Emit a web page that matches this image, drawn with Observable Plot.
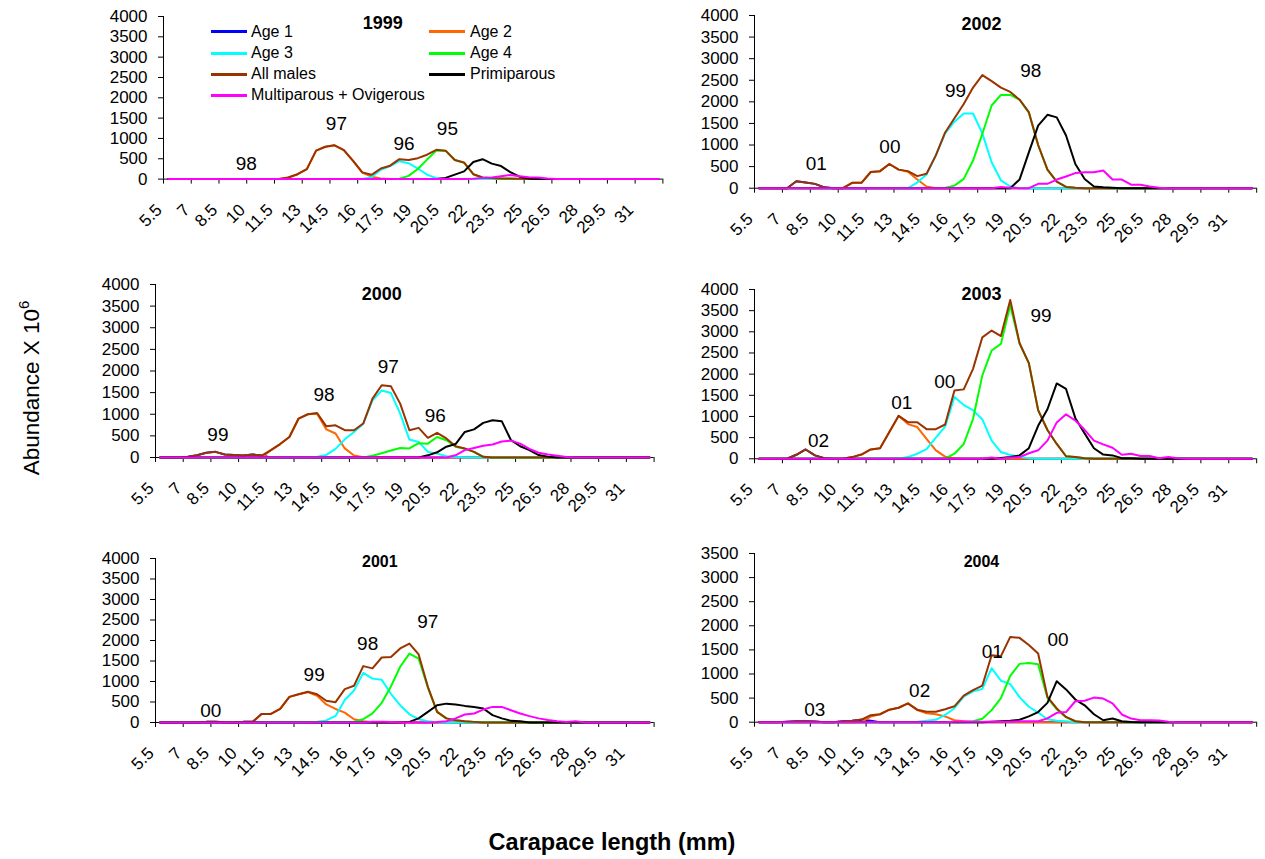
<!DOCTYPE html>
<html><head><meta charset="utf-8">
<script src="https://cdn.jsdelivr.net/npm/d3@7"></script>
<script src="https://cdn.jsdelivr.net/npm/@observablehq/plot@0.6"></script>
<style>
html,body{margin:0;padding:0;background:#fff;}
#fig{position:relative;width:1265px;height:859px;font-family:"Liberation Sans",Arial,sans-serif;color:#000;overflow:hidden;}
.leg{position:absolute;font-size:16px;white-space:nowrap;line-height:1;}
.sw{position:absolute;height:3px;}
#ytitle{position:absolute;left:32px;top:388px;transform:translate(-50%,-50%) rotate(-90deg);font-size:22.5px;white-space:nowrap;}
#ytitle sup{font-size:15px;vertical-align:0;position:relative;top:-10px;}
#xtitle{position:absolute;left:612px;top:842px;transform:translate(-50%,-50%);font-size:23.5px;font-weight:bold;white-space:nowrap;}
</style></head>
<body><div id="fig"><div id="ytitle">Abundance X 10<sup>6</sup></div><div id="xtitle">Carapace length (mm)</div></div>
<script>
// Carapace length categories (mm)
const CATS = [5.5,6,6.5,7,7.5,8,8.5,9,9.5,10,10.5,11,11.5,12,12.5,13,13.5,14,14.5,15,15.5,16,16.5,17,17.5,18,18.5,19,19.5,20,20.5,21,21.5,22,22.5,23,23.5,24,24.5,25,25.5,26,26.5,27,27.5,28,28.5,29,29.5,30,30.5,31,31.5,32];
const TICK_LABELS = ["5.5","7","8.5","10","11.5","13","14.5","16","17.5","19","20.5","22","23.5","25","26.5","28","29.5","31"];
const Y_TICKS_4000 = [0,500,1000,1500,2000,2500,3000,3500,4000];
const Y_TICKS_3500 = [0,500,1000,1500,2000,2500,3000,3500];
const SERIES_NAMES = ["Age 1","Age 2","Age 3","Age 4","All males","Primiparous","Multiparous + Ovigerous"];
const SERIES_COLORS = ["#0000FF","#FF6600","#00FFFF","#00FF00","#993300","#000000","#FF00FF"];

// Abundance (x10^6) per length class; values past the last listed one are 0.
// 1999
const a1_1999 = [0];
const a2_1999 = [0,0,0,0,0,0,0,0,0,0, 0,0,0,40,120,245,700,795,830,715, 450,160,60,15,0];
const a3_1999 = [0,0,0,0,0,0,0,0,0,0, 0,0,0,0,0,0,0,0,0,0, 0,5,45,230,320,440,390,260,110,20, 0];
const a4_1999 = [0,0,0,0,0,0,0,0,0,0, 0,0,0,0,0,0,0,0,0,0, 0,0,0,0,0,10,80,250,480,700, 700,470,400,120,40,20,10,0];
const m_1999  = [0,0,0,0,0,0,0,0,0,0, 0,0,0,40,120,245,700,795,830,715, 450,165,105,260,330,490,470,515,600,720, 700,470,410,120,40,25,15,15,10,0];
const p_1999  = [0,0,0,0,0,0,0,0,0,0, 0,0,0,0,0,0,0,0,0,0, 0,0,0,0,0,0,0,0,0,0, 30,110,190,420,490,380,320,170,60,15, 5,0];
const mo_1999 = [0,0,0,0,0,0,0,0,0,0, 0,0,0,0,0,0,0,0,0,0, 0,0,0,0,0,0,0,0,0,0, 0,0,0,10,30,40,70,100,70,45, 40,15,0];
// 2000
const a1_2000 = [0,0,0,15,50,110,130,70,55,45, 70,45,0];
const a2_2000 = [0,0,0,0,0,0,0,0,0,0, 0,0,170,310,475,900,1000,1010,650,555, 210,45,5,0];
const a3_2000 = [0,0,0,0,0,0,0,0,0,0, 0,0,0,0,0,0,0,20,60,200, 420,590,780,1320,1550,1490,1015,415,360,130, 90,30,10,0];
const a4_2000 = [0,0,0,0,0,0,0,0,0,0, 0,0,0,0,0,0,0,0,0,0, 0,0,0,40,100,160,220,210,330,320, 475,400,250,200,130,15,0];
const m_2000  = [0,0,0,15,50,110,130,70,55,45, 70,45,170,310,475,900,1000,1030,720,745, 630,630,785,1360,1670,1645,1245,630,685,455, 570,440,260,210,130,15,0];
const p_2000  = [0,0,0,0,0,0,0,0,0,0, 0,0,0,0,0,0,0,0,0,0, 0,0,0,0,0,0,0,0,0,50, 120,250,310,590,650,800,860,840,400,260, 170,55,20,0];
const mo_2000 = [0,0,0,0,0,0,0,0,0,0, 0,0,0,0,0,0,0,0,0,0, 0,0,0,0,0,0,0,0,0,0, 0,0,50,170,220,270,300,370,390,320, 200,110,70,40,10,0];
// 2001
const a1_2001 = [0,0,0,0,0,15,15,5,0,15, 15,0];
const a2_2001 = [0,0,0,0,0,0,0,0,0,0, 0,210,210,330,625,690,740,650,440,330, 240,80,30,5,0];
const a3_2001 = [0,0,0,0,0,0,0,0,0,0, 0,0,0,0,0,0,0,20,50,160, 550,780,1210,1070,1040,700,420,200,80,30, 5,0];
const a4_2001 = [0,0,0,0,0,0,0,0,0,0, 0,0,0,0,0,0,0,0,0,0, 0,20,80,220,480,880,1360,1680,1560,850, 260,100,55,30,15,0];
const m_2001  = [0,0,0,0,0,15,15,5,0,15, 15,210,210,330,625,690,750,690,530,495, 815,895,1375,1320,1585,1600,1805,1925,1660,870, 260,100,55,30,15,0];
const p_2001  = [0,0,0,0,0,0,0,0,0,0, 0,0,0,0,0,0,0,0,0,0, 0,0,0,0,0,0,0,15,100,260, 420,460,440,405,380,340,180,100,40,30, 0];
const mo_2001 = [0,0,0,0,0,0,0,0,0,0, 0,0,0,0,0,0,0,0,0,0, 0,0,0,20,20,10,0,0,0,0, 10,30,100,195,220,315,380,380,300,220, 155,100,60,30,10,30,0];
// 2002
const a1_2002 = [0,0,0,0,160,130,100,20,0];
const a2_2002 = [0,0,0,0,0,0,0,0,0,0, 125,125,375,395,560,430,380,200,40,0];
const a3_2002 = [0,0,0,0,0,0,0,0,0,0, 0,0,0,0,0,0,0,130,320,760, 1270,1540,1730,1730,1270,600,180,40,0];
const a4_2002 = [0,0,0,0,0,0,0,0,0,0, 0,0,0,0,0,0,0,0,0,0, 10,60,215,640,1260,1915,2160,2160,2050,1750, 1000,430,150,30,10,0];
const m_2002  = [0,0,0,0,160,130,100,20,0,0, 125,125,375,395,560,430,395,280,335,760, 1290,1620,1950,2330,2620,2480,2330,2230,2050,1760, 1000,430,150,30,10,0];
const p_2002  = [0,0,0,0,0,0,0,0,0,0, 0,0,0,0,0,0,0,0,0,0, 0,0,0,0,0,0,0,0,200,830, 1450,1700,1640,1220,560,215,40,20,10,0];
const mo_2002 = [0,0,0,0,0,0,0,0,0,0, 0,0,0,0,0,0,0,0,0,0, 0,0,0,0,0,0,30,10,0,0, 100,100,200,270,350,370,370,410,200,200, 80,80,40,10,0];
// 2003
const a1_2003 = [0,0,0,0,95,220,80,15,0];
const a2_2003 = [0,0,0,0,0,0,0,0,0,0, 40,100,220,250,630,1015,820,750,470,200, 50,15,0];
const a3_2003 = [0,0,0,0,0,0,0,0,0,0, 0,0,0,0,0,0,40,120,230,500, 760,1460,1270,1150,930,430,160,90,50,10, 0];
const a4_2003 = [0,0,0,0,0,0,0,0,0,0, 0,0,0,0,0,0,0,0,0,0, 5,120,350,945,1970,2560,2715,3620,2730,2260, 1150,680,350,60,40,15,0];
const m_2003  = [0,0,0,0,95,220,80,15,0,0, 40,100,220,250,630,1015,865,865,700,700, 810,1615,1640,2125,2870,3030,2900,3750,2730,2260, 1150,680,350,60,40,15,0];
const p_2003  = [0,0,0,0,0,0,0,0,0,0, 0,0,0,0,0,0,0,0,0,0, 0,0,0,0,0,0,20,40,80,250, 780,1170,1780,1650,960,600,250,100,80,15, 10,0];
const mo_2003 = [0,0,0,0,0,0,0,0,0,0, 0,0,0,0,0,0,0,0,0,0, 0,0,0,0,0,30,0,30,40,130, 200,430,860,1050,905,685,430,340,260,95, 120,65,65,15,40,15,0];
// 2004
const a1_2004 = [0,0,0,10,20,20,15,0,0,20, 30,50,30,0];
const a2_2004 = [0,0,0,0,0,0,0,0,0,0, 0,5,115,165,260,300,390,250,185,165, 120,40,20,5,0];
const a3_2004 = [0,0,0,0,0,0,0,0,0,0, 0,0,0,0,0,0,0,10,30,50, 150,290,530,640,690,1120,860,790,520,320, 200,60,30,20,0];
const a4_2004 = [0,0,0,0,0,0,0,0,0,0, 0,0,0,0,0,0,0,0,0,0, 0,0,0,20,70,250,500,960,1210,1230, 1200,500,270,100,20,0];
const m_2004  = [0,0,0,10,20,20,15,0,0,20, 30,55,145,165,260,300,390,260,215,215, 270,330,550,665,760,1390,1370,1770,1750,1600, 1425,525,285,110,20,0];
const p_2004  = [0,0,0,0,0,0,0,0,0,0, 0,0,0,0,0,0,0,0,0,0, 0,0,0,0,0,10,20,30,50,120, 210,400,850,680,470,350,165,40,75,20, 5,0];
const mo_2004 = [0,0,0,0,0,0,0,0,0,0, 0,0,0,0,0,0,0,0,0,0, 0,10,15,10,10,10,10,10,20,20, 20,80,195,210,435,445,510,490,390,160, 75,40,40,35,10,0];

// Cohort annotations [x (mm), y (abundance), label]
const notes_1999 = [[9.73,370,"98"],[14.6,1370,"97"],[18.25,877,"96"],[20.6,1230,"95"]];
const notes_2000 = [[8.63,515,"99"],[14.38,1440,"98"],[17.86,2090,"97"],[20.4,955,"96"]];
const notes_2001 = [[8.24,285,"00"],[13.84,1170,"99"],[16.74,1910,"98"],[20.0,2455,"97"]];
const notes_2002 = [[8.57,563,"01"],[12.53,950,"00"],[16.06,2260,"99"],[20.1,2725,"98"]];
const notes_2003 = [[8.69,433,"02"],[13.17,1322,"01"],[15.48,1810,"00"],[20.66,3384,"99"]];
const notes_2004 = [[8.49,250,"03"],[14.13,650,"02"],[18.03,1460,"01"],[21.57,1700,"00"]];

const panels = [
  {title:"1999", tx:17.1, ty:3830, ts:18, yMax:4000, yt:Y_TICKS_4000, box:[163.3,662.7,15.7,178.3], s:[a1_1999,a2_1999,a3_1999,a4_1999,m_1999,p_1999,mo_1999], notes:notes_1999},
  {title:"2000", tx:17.5, ty:3780, ts:18, yMax:4000, yt:Y_TICKS_4000, box:[155,653.6,284,457], s:[a1_2000,a2_2000,a3_2000,a4_2000,m_2000,p_2000,mo_2000], notes:notes_2000},
  {title:"2001", tx:17.4, ty:3920, ts:16, yMax:4000, yt:Y_TICKS_4000, box:[155,653.6,558.3,722.3], s:[a1_2001,a2_2001,a3_2001,a4_2001,m_2001,p_2001,mo_2001], notes:notes_2001},
  {title:"2002", tx:17.45, ty:3800, ts:18, yMax:4000, yt:Y_TICKS_4000, box:[753.5,1255.7,15,187.7], s:[a1_2002,a2_2002,a3_2002,a4_2002,m_2002,p_2002,mo_2002], notes:notes_2002},
  {title:"2003", tx:17.45, ty:3880, ts:18, yMax:4000, yt:Y_TICKS_4000, box:[753.5,1255.7,289,458.3], s:[a1_2003,a2_2003,a3_2003,a4_2003,m_2003,p_2003,mo_2003], notes:notes_2003},
  {title:"2004", tx:17.45, ty:3330, ts:16, yMax:3500, yt:Y_TICKS_3500, box:[753.5,1255.7,553.3,722], s:[a1_2004,a2_2004,a3_2004,a4_2004,m_2004,p_2004,mo_2004], notes:notes_2004}
];

const fig = document.getElementById("fig");
const X0 = 5.25, X1 = 32.25;
const bounds = TICK_LABELS.map(d => +d - 0.25).concat([X1]);
const FONT = "'Liberation Sans', Arial, sans-serif";

for (const p of panels) {
  const [left, right, top, bottom] = p.box;
  const ML = 70, MR = 20, MT = 15, MB = 60;
  const w = right - left, h = bottom - top;
  const lineMarks = p.s.map((arr, k) => {
    const rows = CATS.map((len, i) => ({len, v: arr[i] ?? 0}));
    return Plot.line(rows, {x: "len", y: "v", stroke: SERIES_COLORS[k], strokeWidth: 2, strokeLinejoin: "round"});
  });
  const svg = Plot.plot({
    width: ML + w + MR, height: MT + h + MB,
    marginLeft: ML, marginRight: MR, marginTop: MT, marginBottom: MB,
    x: {domain: [X0, X1]},
    y: {domain: [0, p.yMax]},
    style: {background: "transparent", overflow: "visible", fontFamily: FONT, fontSize: "17px", color: "#000"},
    marks: [
      Plot.axisY({ticks: p.yt, tickSize: 5, tickPadding: 11, label: null, tickFormat: d => String(d), fontSize: 17}),
      Plot.axisX({ticks: bounds, tickSize: 5, tickFormat: () => "", label: null}),
      Plot.ruleX([X0], {y1: 0, y2: p.yMax, stroke: "#000", strokeWidth: 1}),
      Plot.ruleY([0], {stroke: "#000", strokeWidth: 1}),
      ...lineMarks,
      Plot.text(TICK_LABELS, {x: d => +d - 0.25, y: () => 0, text: d => d, rotate: -45, textAnchor: "end", dx: -4.5, dy: 28, fontSize: 17}),
      Plot.text(p.notes, {x: d => d[0], y: d => d[1], text: d => d[2], fontSize: 19}),
      Plot.text([p.title], {x: () => p.tx, y: () => p.ty, text: d => d, fontWeight: "bold", fontSize: p.ts})
    ]
  });
  svg.style.position = "absolute";
  svg.style.left = (left - ML) + "px";
  svg.style.top = (top - MT) + "px";
  svg.style.maxWidth = "none";
  fig.appendChild(svg);
}

// Legend (inside the 1999 panel)
const legendRows = [31.7, 53.3, 74, 95];
const legendCols = [{sw: 211, tx: 251}, {sw: 429, tx: 470}];
SERIES_NAMES.forEach((name, k) => {
  const r = Math.floor(k / 2), c = k % 2;
  const sw = document.createElement("div");
  sw.className = "sw";
  sw.style.left = legendCols[c].sw + "px";
  sw.style.top = (legendRows[r] - 1.5) + "px";
  sw.style.width = "36px";
  sw.style.background = SERIES_COLORS[k];
  fig.appendChild(sw);
  const t = document.createElement("div");
  t.className = "leg";
  t.textContent = name;
  t.style.left = legendCols[c].tx + "px";
  t.style.top = (legendRows[r] - 8) + "px";
  fig.appendChild(t);
});
</script></body></html>
